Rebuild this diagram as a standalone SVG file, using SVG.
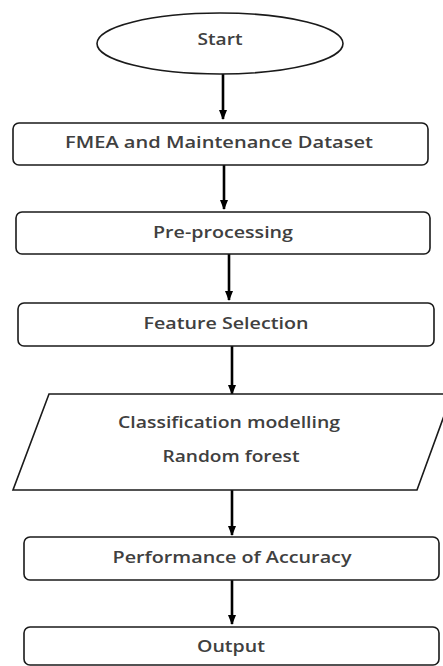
<svg xmlns="http://www.w3.org/2000/svg" width="443" height="666" viewBox="0 0 443 666">
<defs>
<style>
.shape{fill:#fff;stroke:#1a1a1a;stroke-width:1.6}
.lbl{font-family:"Open Sans","Liberation Sans",sans-serif;font-size:16.5px;font-weight:600;fill:#404040;text-anchor:middle}
.conn{stroke:#000;stroke-width:2.6;fill:none}
</style>
<marker id="ah" markerWidth="10" markerHeight="8" refX="9" refY="4" orient="auto" markerUnits="userSpaceOnUse">
<path d="M0,0 L10,4 L0,8 Z" fill="#000"/>
</marker>
</defs>
<rect width="443" height="666" fill="#fff"/>
<g id="connectors">
<line class="conn" x1="223" y1="74" x2="223" y2="119" marker-end="url(#ah)"/>
<line class="conn" x1="224" y1="165" x2="224" y2="209" marker-end="url(#ah)"/>
<line class="conn" x1="229" y1="254" x2="229" y2="300" marker-end="url(#ah)"/>
<line class="conn" x1="232" y1="346" x2="232" y2="394" marker-end="url(#ah)"/>
<line class="conn" x1="232" y1="490" x2="232" y2="535" marker-end="url(#ah)"/>
<line class="conn" x1="232" y1="580" x2="232" y2="624" marker-end="url(#ah)"/>
</g>
<g id="start">
<ellipse class="shape" cx="220" cy="43.5" rx="123" ry="30.5"/>
<text class="lbl" x="220" y="45" textLength="45" lengthAdjust="spacingAndGlyphs">Start</text>
</g>
<g id="dataset">
<rect class="shape" x="13" y="123" width="415" height="42" rx="6"/>
<text class="lbl" x="219" y="148" textLength="308" lengthAdjust="spacingAndGlyphs">FMEA and Maintenance Dataset</text>
</g>
<g id="preprocessing">
<rect class="shape" x="16" y="212" width="414" height="42" rx="6"/>
<text class="lbl" x="223" y="238" textLength="140" lengthAdjust="spacingAndGlyphs">Pre-processing</text>
</g>
<g id="feature-selection">
<rect class="shape" x="18" y="303" width="416" height="43" rx="6"/>
<text class="lbl" x="226" y="329" textLength="165" lengthAdjust="spacingAndGlyphs">Feature Selection</text>
</g>
<g id="classification">
<polygon class="shape" points="49,394 452,394 417,490 13,490"/>
<text class="lbl" x="229" y="428" textLength="222" lengthAdjust="spacingAndGlyphs">Classification modelling</text>
<text class="lbl" x="231" y="462" textLength="137" lengthAdjust="spacingAndGlyphs">Random forest</text>
</g>
<g id="performance">
<rect class="shape" x="24" y="537" width="415" height="43" rx="6"/>
<text class="lbl" x="232" y="563" textLength="239" lengthAdjust="spacingAndGlyphs">Performance of Accuracy</text>
</g>
<g id="output">
<rect class="shape" x="24" y="627" width="415" height="38" rx="6"/>
<text class="lbl" x="231" y="652" textLength="68" lengthAdjust="spacingAndGlyphs">Output</text>
</g>
</svg>
